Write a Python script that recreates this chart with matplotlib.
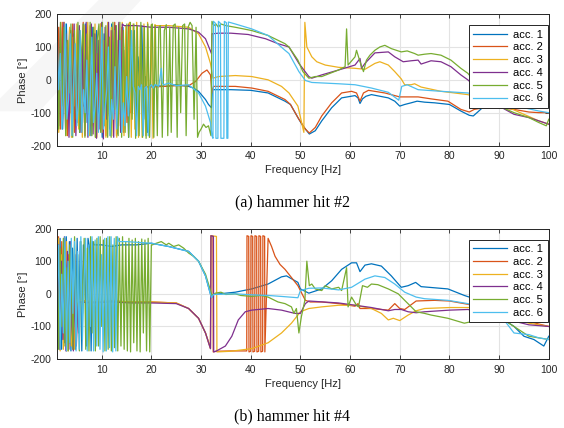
import numpy as np
import matplotlib.pyplot as plt
from matplotlib.patches import Polygon

labels = ['acc. 1', 'acc. 2', 'acc. 3', 'acc. 4', 'acc. 5', 'acc. 6']
colors = ['#0072BD', '#D95319', '#EDB120', '#7E2F8E', '#77AC30', '#4DBEEE']

# ---- hammer hit #2 ----
# wrapped (noisy) phase at low frequency: (end frequency, values)
h2_chaos_end = [19.6, 16.5, 20.7, 14.5, 20.0, 20.7]
h2_chaos = [
    [150, -20, 100, -150, 60, 170, -100, 30, -170, 140, -40, 120, -160, 90, -80, 170, -130, 50, -170, 160,
     -30, 150, -110, 20, -175, 140, -60, 110, -150, 170, -10, 80, -165, 130, -120, 160, -50, 40, -175, 120,
     -100, 150, -140, 70, -20, 165, -120, 10, -160, -20],
    [-80, 160, -150, 175, -40, 140, -170, 120, -100, 170, -160, 60, -130, 150, -20, 175, -170, 100, -60, 165,
     -140, 130, -175, 80, -90, 170, -150, 40, -170, 160, -110, 150, -60, 175, -170, 120, -30, 160, -160, 90,
     -130, 170, -100, 20, -20],
    [170, -160, 150, -120, 175, -170, 60, 160, -175, 130, -80, 170, -150, 100, -175, 165, -20, 175, -170, 140,
     -130, 170, -175, 90, 170, -160, 120, -175, 175, -100, 160, -170, 150, -175, 170, -140, 175, -170, 165, -60,
     175, -175, 170, -150, 175, -175, 160, -175, 170, -170, 175, -175, 168, -178, 168],
    [120, -140, 160, -60, 175, -150, 100, -175, 150, -90, 170, -170, 40, 165, -160, 130, -130, 175, -175, 80,
     170, -165, 140, -178, 120, -150, 175, -180, 160, -120, 175, -170, 150, -175, 165, -140, 175, -160, 170, 165],
    [100, -150, 175, -80, 160, -170, 120, -40, 170, -175, 150, -120, 175, -160, 80, 170, -175, 140, -100, 175,
     -170, 160, -175, 120, 170, -160, 175, -140, 165, -175, 130, -175, 175, -90, 165, -170, 175, -175, 150, -160,
     170, -175, 175, -120, 170, -178, 165, -170, 175, -175, 160, -178, 170, -175, 165],
    [160, -30, 80, -150, -40, 170, -120, -60, 140, -170, -20, 110, -140, -70, 150, -160, -30, -100, 60, -170,
     -50, 130, -130, -80, 20, -160, -40, 160, -150, -90, -30, 100, -170, -60, -120, 40, -150, -20, 120, -160,
     -70, -140, 10, -110, -30, 150, -20, -40, -170, -20, -30, -15, -170, -25, -20, -170, -20, -15, -25, -15],
]
h2_f = [
    [19.8, 21, 23, 25, 27.5, 28.5, 29.5, 30.9, 31.5, 32.1, 32.3, 33, 36, 40, 43.5, 46.9, 48, 49.5, 50.5, 51.8,
     53, 54.3, 56.3, 58.3, 61, 61.6, 62, 62.5, 63.2, 64.3, 67.7, 69, 70, 71, 72.3, 73.5, 75, 77, 80, 82.3,
     84, 84.8, 85.7, 87, 88.5, 90, 92, 94, 96, 98, 99.3, 100],
    [16.8, 20, 25, 27.5, 28.9, 30.2, 31.2, 31.9, 32.2, 32.5, 36.9, 40.2, 43.5, 46.9, 48, 49.7, 51, 51.8, 53, 54.3,
     56.3, 58.3, 60.3, 61.3, 62, 62.7, 63.7, 67, 70, 72.3, 73.7, 76.3, 79.7, 82.3, 84, 85, 87, 90, 93, 96,
     98, 100],
    [20.9, 23.5, 27.5, 29.5, 30.9, 31.9, 32.4, 33.5, 36.9, 40.2, 43.5, 46.2, 47.7, 49.5, 50.7, 50.9, 51.3, 52.3,
     53.3, 55, 57.7, 61, 63, 65, 66, 67.7, 69, 70.3, 71, 72.3, 73, 74.3, 78.3, 83.7, 88, 92, 95, 98, 100],
    [14.7, 17, 20, 23.5, 27.5, 29.5, 30.9, 32.1, 32.2, 33.5, 36, 39.5, 43, 45.5, 47.7, 49.7, 51.7, 52.3, 54.3,
     57.7, 61, 62, 62.3, 63, 65, 67.7, 69, 70.7, 72.3, 73.7, 74.3, 76.3, 78.3, 80.3, 82.3, 83.7, 87, 90, 93,
     96, 98, 100],
    [20.2, 20.5, 20.8, 21.2, 21.5, 21.8, 22.2, 22.6, 23, 23.3, 23.7, 24, 24.4, 24.8, 25.2, 25.5, 25.9, 26.3,
     26.7, 27, 27.4, 27.8, 28.2, 28.6, 29, 29.3, 29.6, 30, 30.5, 31, 31.5, 32, 32.2, 32.6, 33, 33.5, 34, 35,
     36.9, 40.2, 43.5, 46.9, 47.7, 49.5, 50.5, 51.7, 53, 54.3, 56, 57.7, 59, 59.3, 59.6, 61, 61.3, 62, 62.7,
     63.3, 64, 65, 66, 67, 68.3, 70.3, 71.5, 73, 73.7, 75, 76.3, 78.3, 80.3, 82.3, 83.7, 87, 90, 93, 96, 98,
     99.5, 100],
    [20.9, 21.5, 22, 22.2, 22.5, 23.5, 25, 27.5, 29.5, 30.9, 31.9, 32.2, 32.4, 32.5, 32.9, 33.0, 33.4, 33.5,
     33.9, 34.0, 34.6, 34.7, 35.1, 35.2, 35.4, 35.5, 36.9, 40.2, 43.5, 46.9, 47.7, 49.7, 51, 52.3, 57.7, 61,
     64.3, 67.7, 69.8, 70.4, 71.5, 73.7, 78.3, 83.7, 88, 92, 95, 98, 100],
]
h2_p = [
    [-20, -18, -20, -15, -20, -25, -35, -60, -75, -85, -30, -30, -30, -32, -40, -65, -75, -115, -140, -165,
     -155, -125, -85, -55, -48, -55, -72, -58, -50, -45, -55, -65, -80, -75, -70, -65, -68, -70, -75, -95,
     -108, -110, -98, -80, -70, -65, -70, -75, -80, -80, -82, -85],
    [-20, -22, -18, -18, -5, 20, 30, 15, -40, -20, -20, -25, -35, -60, -75, -120, -150, -162, -145, -110,
     -70, -40, -35, -40, -65, -40, -32, -40, -52, -52, -52, -58, -65, -90, -98, -90, -85, -85, -90, -98,
     -100, -100],
    [165, 165, 160, 140, 100, 50, 5, 10, 13, 10, 0, -20, -40, -80, -160, 175, 100, 70, 55, 45, 38, 35, 32, 50,
     55, 45, 25, 3, -15, -15, -12, -22, -35, -45, -65, -85, -105, -125, -135],
    [165, 165, 160, 160, 155, 145, 125, 80, 140, 142, 142, 138, 125, 110, 100, 50, 10, 5, 15, 30, 45, 65, 35,
     50, 82, 85, 70, 55, 58, 60, 48, 58, 55, 40, 15, 0, -45, -80, -105, -115, -125, -135],
    [170, -175, 165, -170, 160, 165, -175, 150, 168, -170, 160, -160, 165, 170, -175, 160, -100, 165, 170, -170,
     160, 175, 165, -120, 160, -175, -160, -150, -135, -145, -140, -170, 178, 165, 170, 160, 170, 165, 160, 150,
     135, 110, 100, 60, 25, 5, 10, 10, 20, 30, 40, 155, 45, 70, 90, 55, 25, 60, 75, 90, 100, 105, 95, 85, 88,
     80, 75, 78, 80, 75, 60, 35, 20, -40, -80, -100, -115, -130, -140, -120],
    [-15, -20, 35, -10, -15, -10, -18, -15, -40, -80, -130, -170, -178, 178, 172, -178, -178, 178, 172, -178,
     -178, 178, 174, -178, -178, 176, 170, 155, 135, 90, 80, 25, -2, -8, -12, -15, -25, -38, -62, -20, -15,
     -30, -35, -40, -55, -70, -85, -95, -100],
]

# ---- hammer hit #4 ----
h4_chaos_end = [8.5, 5.5, 5.5, 5.5, 20.0, 13.5]
h4_chaos = [
    [150, -60, 170, -170, 120, -150, 175, -90, 160, -175, 140, 40, -170, 170, -120, 160, -175, 150, 90, -160,
     170, 140, -175, 160, 150],
    [100, 175, -170, 160, -100, 170, -175, 120, -150, 60, -170, 20, -140, -30, -20],
    [-150, 170, -175, 120, -170, 60, 160, -175, 30, -160, -40, -170, -20, -60, -20],
    [-60, 150, -170, 100, -140, 175, -175, 130, -170, 160, -100, -175, 120, -160, -40, -25],
    [160, -170, 140, -100, 170, -160, 80, -175, 150, 20, -170, 175, -140, 120, -175, 160, -60, 170, -170, 140,
     -175, 175, -120, 160, -175, 170, -160, 175, -100, 165, -175, 170, -170, 175, -175, 150, -165, 175, -175,
     170, -160, 175, -170, 160, -175, 170, -178, 165, -150, 170, -175, 160, -178, 168, -120, 165, -175, 170,
     -178, 150],
    [-40, 150, -170, 60, -120, 175, -175, 100, -150, 170, -60, 160, -175, 130, -170, 175, -140, 40, 170, -175,
     150, -100, 175, -175, 165, -160, 175, -170, 120, -178, 170, -175, 175, -165, 175, -178, 170, -175, 175, 160],
]
h4_f = [
    [8.7, 10, 12, 14, 17, 20, 23.5, 27.5, 29.5, 30.9, 31.7, 32.1, 32.5, 36.9, 40.2, 43.5, 46.2, 47.2, 49.5, 50,
     51.7, 54.3, 56.3, 58.3, 60.3, 61.3, 62, 63, 64.3, 66.3, 68.3, 70.3, 71.7, 73.2, 74.3, 79.7, 83, 85, 88,
     91, 93, 95, 97, 99, 100],
    [5.8, 8, 12, 16, 20, 25, 27.5, 29.5, 30.9, 31.9, 32.0, 32.4, 32.45, 33, 36, 39.2, 39.25, 39.6, 39.65, 40.0,
     40.05, 40.4, 40.45, 40.8, 40.85, 41.2, 41.25, 41.6, 41.65, 42.0, 42.05, 42.4, 42.45, 42.8, 42.85, 43.5,
     44.2, 44.9, 45.9, 46.9, 48.2, 49.5, 50, 51, 52, 54.3, 57.7, 61, 61.6, 62, 64.3, 67.7, 69, 70, 71, 73.3,
     77, 80, 83.7, 88, 92, 96, 100],
    [5.8, 8, 12, 16, 20, 25, 27.5, 29.5, 30.9, 31.9, 32.0, 33.1, 33.2, 36, 40.2, 43.5, 46.2, 48.2, 49.5, 50,
     51.7, 54.3, 57.7, 61, 64.3, 66.3, 67.7, 68.7, 70, 71.7, 73.3, 75, 80, 84, 88, 92, 96, 100],
    [5.8, 8, 12, 16, 20, 25, 27.5, 29.5, 30.9, 31.9, 32.0, 32.5, 32.55, 33, 34.9, 36.2, 37.5, 38.9, 40.2, 43.5,
     46.2, 48.9, 50, 51, 51.7, 57.7, 61, 64.3, 67.7, 69, 70.3, 71.7, 73.3, 75, 80, 83.7, 88, 92, 96, 100],
    [20.2, 21, 22, 23, 23.5, 24.5, 25.5, 26.5, 27.5, 28.5, 29.5, 30.9, 31.9, 32.2, 32.9, 34, 35, 36.9, 38,
     40.2, 42, 43.5, 45.5, 46.9, 48.2, 48.7, 49.2, 49.7, 50.2, 50.9, 51.3, 51.8, 52.3, 53, 54.3, 55, 56.3,
     57.7, 58.3, 59.3, 59.6, 60.3, 61.3, 61.7, 62.5, 63.5, 64.3, 65.6, 67.7, 69.7, 71, 73.3, 75, 76.3, 79.7,
     83, 86, 88, 90, 92, 94, 96, 98, 100],
    [13.7, 15, 17, 20, 23.5, 27.5, 29.5, 30.9, 31.7, 32.1, 32.5, 36.9, 40.2, 43.5, 46.2, 49.5, 50, 51.7, 54.3,
     57.7, 60.3, 63, 65, 67, 69, 71, 73.3, 75, 79.7, 83.7, 88, 91, 93, 96, 98, 100],
]
h4_p = [
    [150, 150, 145, 150, 150, 155, 145, 130, 100, 55, 10, -12, -2, 5, 15, 30, 52, 55, 35, 15, 2, 15, 40, 75,
     95, 95, 68, 88, 92, 85, 55, 20, 25, 35, 22, 15, -5, -15, -40, -80, -100, -130, -140, -160, -130],
    [-20, -25, -22, -25, -25, -28, -45, -75, -120, -168, 178, 176, -178, -176, -175, -175, 178, 176, -178,
     -176, 178, 176, -178, -176, 178, 176, -178, -176, 178, 176, -178, -176, 178, 176, -178, 170,
     145, 115, 90, 75, 50, 25, 10, -20, -25, -25, -30, -38, -30, -45, -45, -50, -30, -45, -48, -22,
     -20, -22, -32, -50, -70, -85, -100],
    [-20, -25, -22, -25, -25, -28, -45, -75, -120, -165, 178, 176, -178, -176, -168, -150, -120, -90, -65,
     -55, -45, -40, -35, -35, -45, -60, -80, -75, -82, -65, -52, -45, -42, -42, -50, -70, -90, -100],
    [-25, -28, -25, -28, -28, -30, -45, -75, -120, -168, 178, 176, -178, -176, -160, -130, -80, -55, -50, -45,
     -50, -60, -60, -30, -22, -28, -35, -42, -52, -48, -48, -55, -58, -55, -50, -48, -60, -80, -95, -100],
    [150, 155, 160, 150, 155, 145, 150, 140, 125, 115, 100, 60, 10, -5, 2, 5, -2, 0, -5, -8, -5, -10, -25,
     -30, -40, -60, -45, -120, -70, -20, 100, 25, 30, 15, 10, 25, 15, 20, 10, 80, -40, -10, -35, -40, 25, 20,
     30, 28, 15, 0, -20, -55, -60, -65, -75, -90, -80, -60, -70, -90, -110, -130, -135, -140],
    [160, 160, 158, 155, 145, 130, 100, 55, 10, -12, -2, 0, -3, -5, -8, -12, 10, 17, 18, 12, 20, 45, 55, 50,
     30, 5, -10, -15, -20, -30, -50, -80, -120, -125, -135, -140],
]

plt.rcParams['font.family'] = ['Liberation Sans', 'DejaVu Sans']
plt.rcParams['axes.unicode_minus'] = False

fig = plt.figure(figsize=(5.64, 4.28), dpi=100)
ax_top = fig.add_axes([0.101, 0.660, 0.872, 0.307])
ax_bot = fig.add_axes([0.101, 0.161, 0.872, 0.305])

def draw(ax, chaos_end, chaos, tail_f, tail_p):
    for i in range(6):
        f = np.concatenate([np.linspace(1, chaos_end[i], len(chaos[i])), tail_f[i]])
        p = np.concatenate([chaos[i], tail_p[i]])
        ax.plot(f, p, color=colors[i], lw=0.9, label=labels[i])
    ax.set_xlim(1, 100)
    ax.set_ylim(-200, 200)
    ax.set_xticks(range(10, 101, 10))
    ax.set_yticks([-200, -100, 0, 100, 200])
    ax.grid(True, color='#e3e3e3', lw=0.8)
    ax.set_axisbelow(True)
    ax.tick_params(direction='in', top=True, right=True, labelsize=7.5, colors='#262626',
                   length=3, width=0.6, pad=4)
    for s in ax.spines.values():
        s.set_color('#262626')
        s.set_linewidth(0.7)
    ax.set_xlabel('Frequency [Hz]', fontsize=8, color='#262626', labelpad=3)
    ax.set_ylabel('Phase [°]', fontsize=8, color='#262626', labelpad=2)
    leg = ax.legend(loc='upper right', bbox_to_anchor=(0.998, 0.916), borderaxespad=0,
                    fontsize=8, fancybox=False, framealpha=1, edgecolor='#262626',
                    handlelength=3.0, handletextpad=0.6, labelspacing=0.25, borderpad=0.4)
    leg.get_frame().set_linewidth(0.7)

draw(ax_top, h2_chaos_end, h2_chaos, h2_f, h2_p)
draw(ax_bot, h4_chaos_end, h4_chaos, h4_f, h4_p)

fig.text(0.518, 0.526, '(a) hammer hit #2', ha='center', va='center', fontsize=11.5,
         family='Liberation Serif')
fig.text(0.518, 0.026, '(b) hammer hit #4', ha='center', va='center', fontsize=11.5,
         family='Liberation Serif')

# faint watermark stripe in the upper left corner
fig.patches.append(Polygon([[0.175, 1.0], [0.25, 1.0], [0.07, 0.74], [0.0, 0.74], [0.0, 0.77]],
                           closed=True, transform=fig.transFigure, facecolor='#808080',
                           alpha=0.07, edgecolor='none', zorder=10))

fig.savefig('out.png', dpi=100)
